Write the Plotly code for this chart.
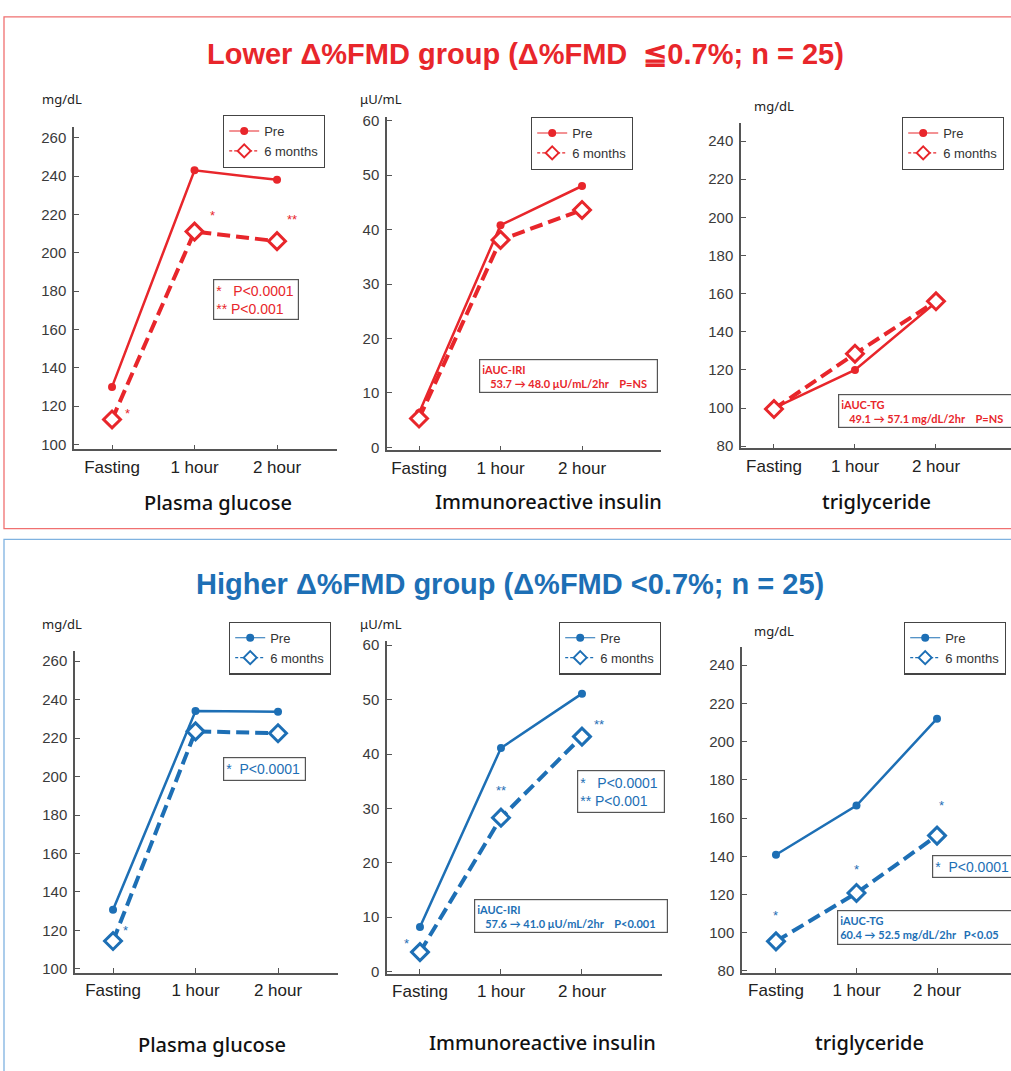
import plotly.graph_objects as go

W, H = 1011, 1071

# ---------------- data ----------------
categories = ["Fasting", "1 hour", "2 hour"]
glucose_ticks = [100, 120, 140, 160, 180, 200, 220, 240, 260]
insulin_ticks = [0, 10, 20, 30, 40, 50, 60]
tg_ticks = [80, 100, 120, 140, 160, 180, 200, 220, 240]

lower_glucose_pre = [130, 243, 238]
lower_glucose_6m = [113, 211, 206]
lower_iri_pre = [6.3, 40.8, 48.0]
lower_iri_6m = [5.3, 38.1, 43.6]
lower_tg_pre = [100, 120, 155.5]
lower_tg_6m = [99.5, 128.5, 156]

higher_glucose_pre = [130.7, 234, 233.7]
higher_glucose_6m = [114.5, 223.5, 222.5]
higher_iri_pre = [8.2, 41.1, 51.1]
higher_iri_6m = [3.6, 28.3, 43.2]
higher_tg_pre = [140.8, 166.5, 212]
higher_tg_6m = [95.5, 120.8, 150.8]

series_names = ["Pre", "6 months"]
lower_title = "Lower Δ%FMD group (Δ%FMD  ≦0.7%; n = 25)"
higher_title = "Higher Δ%FMD group (Δ%FMD <0.7%; n = 25)"

RED = "#e8262b"
BLUE = "#1d6fb5"
TXT = "#222222"
AX = "#555555"


def px(x):
    return x / W


def py(y):
    return 1 - y / H


panels = [
    dict(pre=lower_glucose_pre, six=lower_glucose_6m, color=RED, xpx=(74, 337), ypx=(449, 123),
         xr=[-0.461, 2.727], yr=[97.4, 265.7], ticks=glucose_ticks, unit="mg/dL", unit_pos=(62, 95),
         title="Plasma glucose", title_pos=(218, 503), leg=(223, 111),
         stars=[(0, "*", 15, 6), (1, "*", 18, 16), (2, "**", 15, 22)],
         boxes=[(213, 277, 299, 318, "*   P&lt;0.0001<br>** P&lt;0.001", 14, False)]),
    dict(pre=lower_iri_pre, six=lower_iri_6m, color=RED, xpx=(387, 661), ypx=(450, 113),
         xr=[-0.393, 2.969], yr=[-0.55, 60.7], ticks=insulin_ticks, unit="μU/mL", unit_pos=(381, 95),
         title="Immunoreactive insulin", title_pos=(548, 502), leg=(531, 113),
         stars=[],
         boxes=[(479, 358, 658, 392, "iAUC-IRI<br>   53.7 → 48.0 μU/mL/2hr    P=NS", 11, True)]),
    dict(pre=lower_tg_pre, six=lower_tg_6m, color=RED, xpx=(741, 1011), ypx=(448, 119),
         xr=[-0.407, 2.926], yr=[78.86, 249.6], ticks=tg_ticks, unit="mg/dL", unit_pos=(774, 102),
         title="triglyceride", title_pos=(876, 502), leg=(902, 113),
         stars=[],
         boxes=[(838, 393, 1030, 427, "iAUC-TG<br>   49.1 → 57.1 mg/dL/2hr    P=NS", 11, True)]),
    dict(pre=higher_glucose_pre, six=higher_glucose_6m, color=BLUE, xpx=(75, 338), ypx=(978, 653),
         xr=[-0.461, 2.727], yr=[97.9, 265.1], ticks=glucose_ticks, unit="mg/dL", unit_pos=(62, 625),
         title="Plasma glucose", title_pos=(212, 1050), leg=(229, 623),
         stars=[(0, "*", 12, 11)],
         boxes=[(223, 760, 306, 784, "*  P&lt;0.0001", 14, False)]),
    dict(pre=higher_iri_pre, six=higher_iri_6m, color=BLUE, xpx=(387, 662), ypx=(979, 643),
         xr=[-0.407, 2.988], yr=[-0.42, 60.7], ticks=insulin_ticks, unit="μU/mL", unit_pos=(381, 625),
         title="Immunoreactive insulin", title_pos=(542, 1048), leg=(559, 623),
         stars=[(0, "*", -13, 9), (1, "**", 0, 27), (2, "**", 17, 12)],
         boxes=[(577, 773, 665, 816, "*   P&lt;0.0001<br>** P&lt;0.001", 14, False),
                (474, 903, 668, 937, "iAUC-IRI<br>   57.6 → 41.0 μU/mL/2hr    P&lt;0.001", 11, True)]),
    dict(pre=higher_tg_pre, six=higher_tg_6m, color=BLUE, xpx=(742, 1011), ypx=(978, 649),
         xr=[-0.422, 2.919], yr=[78.96, 249.3], ticks=tg_ticks, unit="mg/dL", unit_pos=(774, 632),
         title="triglyceride", title_pos=(869, 1048), leg=(904, 623),
         stars=[(0, "*", 0, 26), (1, "*", 0, 23), (2, "*", 4, 30)],
         boxes=[(932, 859, 1030, 882, "*  P&lt;0.0001", 14, False),
                (837, 914, 1030, 949, "iAUC-TG<br>60.4 → 52.5 mg/dL/2hr   P&lt;0.05", 11, True)]),
]

fig = go.Figure()
annotations = []
shapes = []
layout = {}

for i, p in enumerate(panels):
    n = i + 1
    xa = "x" if n == 1 else f"x{n}"
    ya = "y" if n == 1 else f"y{n}"
    lg = "legend" if n == 1 else f"legend{n}"
    c = p["color"]

    fig.add_trace(go.Scatter(
        x=categories, y=p["pre"], xaxis=xa, yaxis=ya, mode="lines+markers",
        line=dict(color=c, width=2.5), marker=dict(symbol="circle", size=8, color=c),
        showlegend=False, cliponaxis=False))
    fig.add_trace(go.Scatter(
        x=categories, y=p["six"], xaxis=xa, yaxis=ya, mode="lines+markers",
        line=dict(color=c, width=4, dash="13px,6px"),
        marker=dict(symbol="diamond", size=13, color="white", line=dict(color=c, width=3)),
        showlegend=False, cliponaxis=False))
    # legend-only entries
    fig.add_trace(go.Scatter(
        x=[None], y=[None], xaxis=xa, yaxis=ya, mode="lines+markers", name=series_names[0],
        line=dict(color=c, width=1.2), marker=dict(symbol="circle", size=8, color=c),
        legend=lg, showlegend=True))
    fig.add_trace(go.Scatter(
        x=[None], y=[None], xaxis=xa, yaxis=ya, mode="lines+markers", name=series_names[1],
        line=dict(color=c, width=1.2, dash="3px,2px"),
        marker=dict(symbol="diamond", size=10, color="white", line=dict(color=c, width=2)),
        legend=lg, showlegend=True))

    axkey_x = "xaxis" if n == 1 else f"xaxis{n}"
    axkey_y = "yaxis" if n == 1 else f"yaxis{n}"
    layout[axkey_x] = dict(
        domain=[px(p["xpx"][0]), px(p["xpx"][1])], anchor=ya, type="category",
        range=p["xr"], showline=True, linecolor=AX, linewidth=1.5, showgrid=False,
        zeroline=False, ticks="inside", ticklen=5, tickcolor=AX, tickwidth=1,
        tickfont=dict(family="Liberation Sans, Arial", size=17, color=TXT),
        ticklabelstandoff=1, fixedrange=True)
    layout[axkey_y] = dict(
        domain=[py(p["ypx"][0]), py(p["ypx"][1])], anchor=xa, range=p["yr"],
        tickvals=p["ticks"], showline=True, linecolor=AX, linewidth=1.5, showgrid=False,
        zeroline=False, ticks="inside", ticklen=5, tickcolor=AX, tickwidth=1,
        tickfont=dict(family="Liberation Sans, Arial", size=15, color="#3a3a3a"),
        ticklabelstandoff=3, fixedrange=True)
    layout[lg] = dict(
        x=px(p["leg"][0]), y=py(p["leg"][1]), xanchor="left", yanchor="top",
        xref="paper", yref="paper", bordercolor="#444444", borderwidth=1.2,
        bgcolor="white", font=dict(family="Liberation Sans, Arial", size=13, color="#333333"),
        tracegroupgap=0, itemwidth=30, traceorder="normal")

    # unit label
    annotations.append(dict(
        x=px(p["unit_pos"][0]), y=py(p["unit_pos"][1]), xref="paper", yref="paper",
        text=p["unit"], showarrow=False, xanchor="center", yanchor="middle",
        font=dict(family="Noto Sans, DejaVu Sans", size=13, color=TXT)))
    # subplot title
    annotations.append(dict(
        x=px(p["title_pos"][0]), y=py(p["title_pos"][1]), xref="paper", yref="paper",
        text=p["title"], showarrow=False, xanchor="center", yanchor="middle",
        font=dict(family="Noto Sans, DejaVu Sans", size=20, color="#111111", weight=500)))
    # significance stars
    for idx, s, dx, dy in p["stars"]:
        annotations.append(dict(
            x=categories[idx], y=p["six"][idx], xref=xa, yref=ya, text=s, showarrow=False,
            xshift=dx, yshift=dy, font=dict(family="Liberation Sans, Arial", size=13, color=c)))
    # text boxes
    for x0, y0, x1, y1, t, fs, bold in p["boxes"]:
        if bold:
            t = f"<b>{t}</b>"
        annotations.append(dict(
            x=px(x0), y=py(y0), xref="paper", yref="paper", xanchor="left", yanchor="top",
            text=t, showarrow=False, align="left", valign="middle",
            width=x1 - x0 - 6, height=y1 - y0 - 6, borderpad=2,
            bordercolor="#555555", borderwidth=1.2, bgcolor="white",
            font=dict(family="Lato, Liberation Sans, Arial" if bold else "Liberation Sans, Arial",
                      size=fs, color=c)))

# group titles
annotations.append(dict(
    x=px(525), y=py(50), xref="paper", yref="paper", text=lower_title, showarrow=False,
    xanchor="center", yanchor="middle",
    font=dict(family="Liberation Sans, Arial", size=29, color=RED, weight="bold")))
annotations.append(dict(
    x=px(510), y=py(585), xref="paper", yref="paper", text=higher_title, showarrow=False,
    xanchor="center", yanchor="middle",
    font=dict(family="Liberation Sans, Arial", size=29, color=BLUE, weight="bold")))

# panel borders
shapes.append(dict(type="rect", xref="paper", yref="paper", x0=px(4), x1=px(1020),
                   y0=py(529), y1=py(12), line=dict(color="#f07070", width=1.3), layer="below"))
shapes.append(dict(type="rect", xref="paper", yref="paper", x0=px(4), x1=px(1020),
                   y0=py(1080), y1=py(540), line=dict(color="#7fb2e0", width=1.3), layer="below"))

fig.update_layout(
    width=W, height=H, margin=dict(l=0, r=0, t=0, b=0),
    paper_bgcolor="white", plot_bgcolor="white",
    annotations=annotations, shapes=shapes, **layout)

fig.write_html("out.html", config={"displayModeBar": False},
               post_script="document.body.style.margin='0px';document.body.style.overflow='hidden';")
